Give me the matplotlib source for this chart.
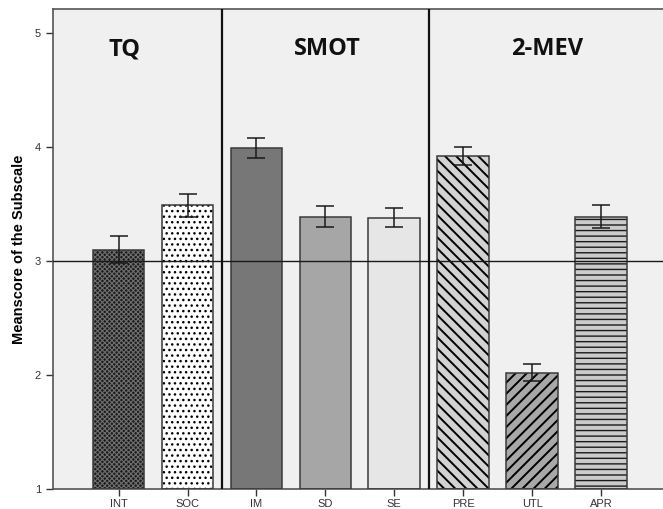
import numpy as np
import matplotlib.pyplot as plt
from matplotlib.ticker import NullLocator

plt.rcParams['font.family'] = ['Liberation Sans', 'DejaVu Sans']

subscales = ['INT', 'SOC', 'IM', 'SD', 'SE', 'PRE', 'UTL', 'APR']
means = [3.10, 3.49, 3.99, 3.39, 3.38, 3.92, 2.02, 3.39]
errors = [0.12, 0.10, 0.09, 0.09, 0.085, 0.077, 0.075, 0.10]
groups = ['TQ', 'SMOT', '2-MEV']
group_pos = [0.09, 3.03, 6.22]

fills = ['#1c1c1c', '#ffffff', '#777777', '#a6a6a6', '#e6e6e6', '#d2d2d2', '#a8a8a8', '#cbcbcb']
hatch_colors = ['#6e6e6e', '#000000', None, None, None, '#000000', '#000000', '#1a1a1a']
hatches = ['xxxxxxx', '...', None, None, None, '\\\\\\', '///', '---']
hatch_widths = [0.8, 1.0, 1.0, 1.0, 1.0, 1.4, 1.4, 1.0]

fig = plt.figure(figsize=(6.63, 5.09), dpi=100)
ax = fig.add_axes([0.0795, 0.0393, 0.9205, 0.9427])
ax.set_facecolor('#f0f0f0')

x = np.arange(len(subscales))
for i in range(len(subscales)):
    with plt.rc_context({'hatch.linewidth': hatch_widths[i]}):
        if hatches[i]:
            ax.bar(x[i], means[i] - 1, bottom=1, width=0.75, color=fills[i],
                   edgecolor=hatch_colors[i], hatch=hatches[i], linewidth=0, zorder=2)
        else:
            ax.bar(x[i], means[i] - 1, bottom=1, width=0.75, color=fills[i], linewidth=0, zorder=2)
ax.bar(x, np.array(means) - 1, bottom=1, width=0.75, fill=False,
       edgecolor='#3a3a3a', linewidth=1.1, zorder=3)

ax.errorbar(x, means, yerr=errors, fmt='none', ecolor='#1a1a1a',
            elinewidth=1.1, capsize=6.3, capthick=1.1, zorder=5)

ax.axhline(3, color='#1a1a1a', linewidth=1.0, zorder=4)
for xv in [1.5, 4.5]:
    ax.axvline(xv, color='#111111', linewidth=1.6, zorder=4)

for name, gx in zip(groups, group_pos):
    ax.text(gx, 4.86, name, ha='center', va='center', fontsize=17,
            fontweight='bold', family=['Open Sans', 'DejaVu Sans'], color='#111111')

ax.set_xlim(-0.957, 7.9)
ax.set_ylim(1, 5.21)
ax.set_xticks(x)
ax.set_xticklabels(subscales)
ax.set_yticks([1, 2, 3, 4, 5])
ax.tick_params(axis='both', labelsize=8, colors='#333333', length=5, width=1)
ax.tick_params(axis='x', pad=2)
ax.xaxis.set_minor_locator(NullLocator())
ax.set_ylabel('Meanscore of the Subscale', fontsize=10.5, fontweight='bold', labelpad=6)

for s in ['left', 'bottom', 'top']:
    ax.spines[s].set_color('#555555')
    ax.spines[s].set_linewidth(1.2)
ax.spines['right'].set_visible(False)

fig.savefig('out.png', dpi=100)
